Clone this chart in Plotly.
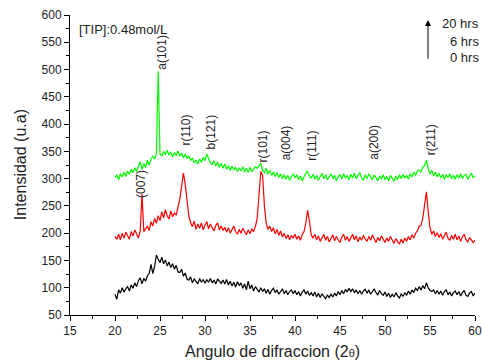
import numpy as np
import plotly.graph_objects as go

# 2-theta sampling grid (degrees)
two_theta = np.round(np.linspace(20, 60, 201), 2)

# 20 hrs (green)
green_20h = [
    302, 307, 298, 309, 303, 312, 304, 314, 308, 317,
    311, 320, 313, 323, 331, 317, 328, 320, 334, 325,
    336, 341, 336, 345, 497, 346, 341, 350, 344, 352,
    343, 349, 340, 348, 342, 351, 341, 347, 338, 345,
    337, 342, 333, 338, 329, 334, 327, 336, 330, 339,
    333, 345, 335, 329, 326, 333, 323, 330, 321, 328,
    319, 327, 317, 324, 315, 323, 316, 321, 313, 320,
    314, 322, 312, 319, 311, 321, 313, 318, 322, 319,
    324, 328, 315, 311, 319, 308, 315, 306, 312, 304,
    311, 302, 309, 300, 307, 299, 306, 297, 304, 309,
    301, 307, 298, 305, 296, 304, 310, 313, 304, 301,
    308, 299, 306, 297, 305, 310, 300, 307, 298, 304,
    309, 300, 306, 296, 304, 307, 299, 309, 301, 306,
    298, 308, 301, 310, 300, 306, 311, 302, 297, 307,
    300, 309, 302, 298, 307, 301, 296, 305, 299, 307,
    298, 304, 296, 306, 300, 295, 305, 298, 307, 300,
    308, 301, 306, 299, 309, 303, 312, 306, 314, 316,
    312, 321, 324, 334, 318, 309, 315, 305, 312, 303,
    310, 301, 308, 299, 307, 302, 309, 300, 306, 299,
    307, 301, 309, 300, 306, 308, 299, 305, 310, 302, 305,
]

# 6 hrs (red)
red_6h = [
    194, 189, 198, 188, 200, 191, 202, 194, 189, 203,
    195, 206, 197, 191, 204, 272, 203, 209, 213, 205,
    221, 213, 227, 218, 232, 223, 239, 228, 243, 232,
    226, 241, 230, 237, 233, 248, 262, 286, 310, 290,
    258, 232, 219, 212, 222, 207, 217, 209, 219, 206,
    215, 221, 208, 217, 210, 204, 214, 219, 206, 213,
    205, 211, 202, 210, 200, 208, 213, 203, 198, 207,
    200, 209, 202, 197, 206, 199, 208, 203, 212, 228,
    270, 313, 306, 250, 218, 207, 213, 203, 210, 199,
    207, 196, 204, 193, 200, 190, 197, 188, 196, 191,
    198, 189, 195, 187, 197, 203, 218, 242, 222, 197,
    191, 198, 188, 195, 185, 193, 198, 187, 194, 184,
    192, 197, 186, 194, 188, 183, 193, 198, 187, 194,
    185, 192, 198, 188, 195, 184, 193, 187, 196, 189,
    185, 194, 187, 197, 189, 183, 192, 186, 195, 188,
    183, 191, 185, 194, 187, 181, 190, 184, 180, 189,
    182, 191, 185, 194, 188, 197, 191, 200, 204, 213,
    214, 228, 250, 276, 240, 210, 198, 204, 194, 201,
    192, 199, 189, 197, 202, 191, 187, 196, 189, 198,
    188, 195, 185, 193, 198, 188, 184, 192, 187, 183, 187,
]

# 0 hrs (black)
black_0h = [
    88, 79, 96, 90, 100, 92, 98, 102, 94, 105,
    99, 109, 102, 113, 118, 107, 117, 112, 122, 126,
    143, 126, 139, 160, 152, 146, 156, 144, 151, 140,
    147, 137, 144, 134, 141, 129, 128, 134, 121, 127,
    116, 114, 120, 109, 116, 111, 107, 117, 110, 115,
    108, 115, 110, 117, 109, 114, 107, 116, 111, 108,
    114, 107, 115, 105, 112, 103, 110, 101, 111, 104,
    109, 99, 107, 96, 112, 98, 105, 94, 102, 96,
    92, 100, 93, 98, 90, 97, 88, 95, 99, 91,
    96, 88, 94, 98, 89, 95, 87, 93, 96, 89,
    95, 87, 93, 85, 92, 96, 88, 94, 86, 91,
    85, 92, 83, 90, 82, 89, 84, 80, 87, 82,
    88, 83, 90, 85, 93, 87, 95, 89, 97, 92,
    99, 93, 98, 91, 96, 89, 95, 88, 94, 97,
    90, 96, 88, 94, 98, 91, 87, 95, 89, 86,
    92, 84, 90, 82, 88, 83, 91, 85, 81, 89,
    84, 91, 86, 94, 88, 96, 91, 99, 95, 102,
    96, 104, 98, 109, 100, 95, 93, 96, 89, 95,
    88, 94, 86, 93, 96, 87, 92, 85, 91, 94,
    87, 93, 85, 91, 95, 86, 84, 90, 93, 85, 90,
]

# Peak labels: text, x (2theta), y (bottom of label)
peak_labels = ["(007)", "a(101)", "r(110)", "b(121)", "r(101)", "a(004)", "r(111)", "a(200)", "r(211)"]
peak_x = [22.9, 25.28, 27.89, 30.67, 36.39, 39.0, 41.94, 48.78, 55.11]
peak_y = [261, 496, 356, 349, 325, 329, 330, 330, 340]

legend_labels = ["20 hrs", "6 hrs", "0 hrs"]

FONT = "Arial, Liberation Sans, sans-serif"

fig = go.Figure()
fig.add_trace(go.Scatter(x=two_theta, y=black_0h, mode="lines",
                         line=dict(color="#000000", width=1.2), showlegend=False))
fig.add_trace(go.Scatter(x=two_theta, y=red_6h, mode="lines",
                         line=dict(color="#ff0000", width=1.2), showlegend=False))
fig.add_trace(go.Scatter(x=two_theta, y=green_20h, mode="lines",
                         line=dict(color="#00ff00", width=1.2), showlegend=False))

annotations = []
for t, xx, yy in zip(peak_labels, peak_x, peak_y):
    annotations.append(dict(x=xx, y=yy, xref="x", yref="y", text=t, textangle=-90,
                            showarrow=False, xanchor="center", yanchor="bottom",
                            font=dict(family=FONT, size=12, color="#222222")))

annotations.append(dict(x=0.017, y=0.953, xref="paper", yref="paper",
                        text="[TIP]:0.48mol/L", showarrow=False,
                        xanchor="left", yanchor="middle",
                        font=dict(family=FONT, size=13, color="#222222")))

# arrow
annotations.append(dict(x=54.78, y=591, xref="x", yref="y",
                        ax=54.78, ay=517, axref="x", ayref="y",
                        text="", showarrow=True, arrowhead=2, arrowsize=1.2,
                        arrowwidth=1, arrowcolor="#000000"))
for lab, yp in zip(legend_labels, [0.973, 0.913, 0.857]):
    annotations.append(dict(x=1.016, y=yp, xref="paper", yref="paper", text=lab,
                            showarrow=False, xanchor="right", yanchor="middle",
                            font=dict(family=FONT, size=13, color="#222222")))

# axis titles
annotations.append(dict(x=-0.123, y=0.5, xref="paper", yref="paper",
                        text="Intensidad (u.a)", textangle=-90, showarrow=False,
                        xanchor="center", yanchor="middle",
                        font=dict(family=FONT, size=16, color="#222222")))
annotations.append(dict(x=0.5, y=-0.123, xref="paper", yref="paper",
                        text="Angulo de difraccion (2<span style='font-size:11px'>θ</span>)",
                        showarrow=False, xanchor="center", yanchor="middle",
                        font=dict(family=FONT, size=16, color="#222222")))

fig.update_layout(
    width=482, height=360,
    margin=dict(l=70, r=7, t=15, b=45, autoexpand=False),
    paper_bgcolor="white", plot_bgcolor="white",
    font=dict(family=FONT, size=12, color="#222222"),
    annotations=annotations,
    hovermode=False,
)
fig.update_xaxes(range=[15, 60], tick0=15, dtick=5, showgrid=False, zeroline=False,
                 automargin=False,
                 showline=True, linecolor="#000000", linewidth=1,
                 ticks="outside", ticklen=5, tickcolor="#000000",
                 minor=dict(ticks="outside", ticklen=3, dtick=2.5, tickcolor="#000000"),
                 tickfont=dict(family=FONT, size=12, color="#222222"))
fig.update_yaxes(range=[50, 600], tick0=50, dtick=50, showgrid=False, zeroline=False,
                 automargin=False,
                 showline=True, linecolor="#000000", linewidth=1,
                 ticks="outside", ticklen=5, tickcolor="#000000",
                 minor=dict(ticks="outside", ticklen=3, dtick=25, tickcolor="#000000"),
                 tickfont=dict(family=FONT, size=12, color="#222222"))

fig.write_html("out.html")
